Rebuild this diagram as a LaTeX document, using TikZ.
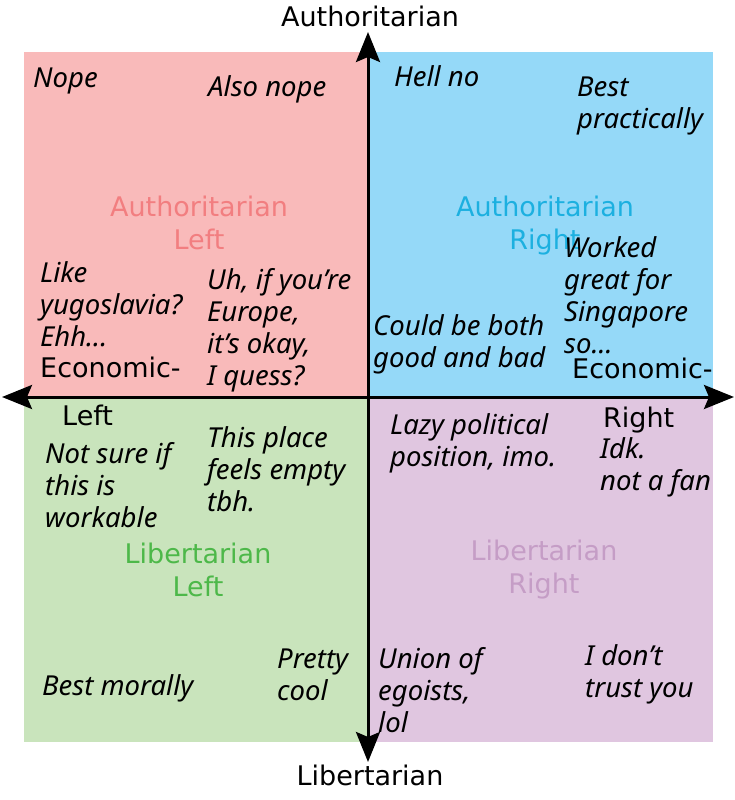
\documentclass[tikz,border=0pt]{standalone}
\usepackage{fontspec}
\setmainfont{DejaVu Sans}
\newfontfamily\comicfam{Noto Sans}
\usetikzlibrary{arrows.meta}
\definecolor{qpink}{HTML}{F9BABA}
\definecolor{qblue}{HTML}{95D9F8}
\definecolor{qgreen}{HTML}{C9E4BC}
\definecolor{qpurple}{HTML}{E0C6E0}
\definecolor{tpink}{HTML}{F27E80}
\definecolor{tblue}{HTML}{1CB0E0}
\definecolor{tgreen}{HTML}{4DB849}
\definecolor{tpurple}{HTML}{C59DC6}
\newcommand\comicsize{\fontsize{27.5}{32}\selectfont}
\newcommand\labelsize{\fontsize{27}{33}\selectfont}
\newcommand\qlines[1]{\begin{tabular}[t]{@{}l@{}}#1\end{tabular}}
\newcommand\clines[1]{\begin{tabular}[t]{@{}c@{}}#1\end{tabular}}
\tikzset{
  comictxt/.style={anchor=base west, inner sep=0pt, font=\comicfam\comicsize\itshape},
  lwtxt/.style={anchor=base west, inner sep=0pt, font=\labelsize},
  axlbl/.style={anchor=base, inner sep=0pt, font=\labelsize},
  quadlbl/.style={anchor=base, inner sep=0pt, font=\labelsize},
  axisline/.style={line width=3pt, {Stealth[length=30pt,width=24pt,inset=5pt]}-{Stealth[length=30pt,width=24pt,inset=5pt]}}
}
\begin{document}
\begin{tikzpicture}[x=1pt,y=-1pt]
\useasboundingbox (0,0) rectangle (735,800);
\fill[white] (0,0) rectangle (735,800);
% quadrants
\fill[qpink] (24,52) rectangle (368,397);
\fill[qblue] (368,52) rectangle (713,397);
\fill[qgreen] (24,397) rectangle (368,742);
\fill[qpurple] (368,397) rectangle (713,742);
% quadrant labels
\node[quadlbl, text=tpink] (alabel) at (199,216) {\clines{Authoritarian\\Left}};
\node[quadlbl, text=tblue] (arlabel) at (545,216) {\clines{Authoritarian\\Right}};
\node[quadlbl, text=tgreen] (lllabel) at (198,563) {\clines{Libertarian\\Left}};
\node[quadlbl, text=tpurple] (lrlabel) at (544,560) {\clines{Libertarian\\Right}};
% top-left
\node[comictxt] (nope) at (33,88) {Nope};
\node[comictxt] (alsonope) at (208,96) {Also nope};
\node[comictxt] (like) at (40,282) {\qlines{Like\\yugoslavia?\\Ehh...}};
\node[lwtxt] (econl) at (40,377) {Economic-};
\node[comictxt] (uh) at (207,289) {\qlines{Uh, if you’re\\Europe,\\it’s okay,\\I quess?}};
% top-right
\node[comictxt] (hellno) at (394,86) {Hell no};
\node[comictxt] (best) at (577,96) {\qlines{Best\\practically}};
\node[comictxt] (worked) at (564,257) {\qlines{Worked\\great for\\Singapore\\so...}};
\node[comictxt] (could) at (373,335) {\qlines{Could be both\\good and bad}};
\node[lwtxt] (econr) at (572,378) {Economic-};
% bottom-left
\node[lwtxt] (leftw) at (62,425) {Left};
\node[comictxt] (notsure) at (45,463) {\qlines{Not sure if\\this is\\workable}};
\node[comictxt] (thisplace) at (207,447) {\qlines{This place\\feels empty\\tbh.}};
\node[comictxt] (bestmor) at (42,695) {Best morally};
\node[comictxt] (pretty) at (277,668) {\qlines{Pretty\\cool}};
% bottom-right
\node[comictxt] (lazy) at (390,434) {\qlines{Lazy political\\position, imo.}};
\node[lwtxt] (rightw) at (603,427) {Right};
\node[comictxt] (idk) at (600,458) {\qlines{Idk.\\not a fan}};
\node[comictxt] (union) at (378,668) {\qlines{Union of\\egoists,\\lol}};
\node[comictxt] (trust) at (585,665) {\qlines{I don’t\\trust you}};
% axis labels
\node[axlbl] (auth) at (370,27) {Authoritarian};
\node[axlbl] (lib) at (370,785) {Libertarian};
% axes
\coordinate (N) at (368,32);
\coordinate (S) at (368,762);
\coordinate (W) at (2,397);
\coordinate (E) at (734,397);
\draw[axisline] (W) -- (E);
\draw[axisline] (S) -- (N);
\end{tikzpicture}
\end{document}
